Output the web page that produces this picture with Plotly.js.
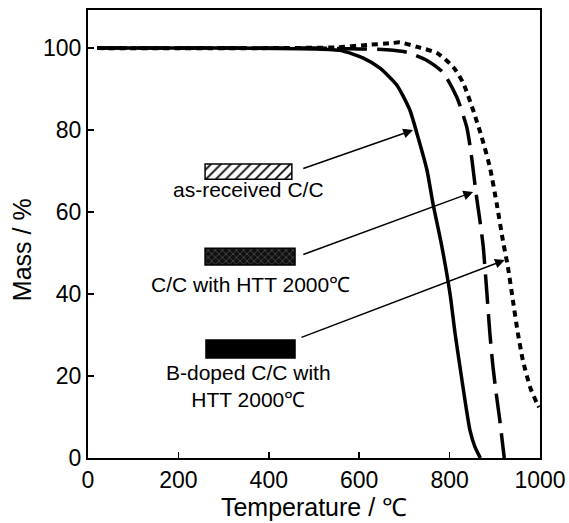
<!DOCTYPE html>
<html>
<head>
<meta charset="utf-8">
<script src="https://cdn.plot.ly/plotly-3.0.1.min.js"></script>
<style>html,body{margin:0;padding:0;background:#fff;}#chart{width:569px;height:523px;}</style>
</head>
<body>
<div id="chart"></div>
<script>
// As-received C/C (solid)
const tempAsReceived = [20, 300, 500, 560, 608, 646, 683, 712, 730, 750, 763, 783, 801, 812, 823, 834, 845, 856, 868];
const massAsReceived = [100, 100, 99.8, 99.4, 97.6, 95.1, 91, 84.9, 78.3, 70.2, 62.2, 51.5, 40, 30.5, 22.2, 14.1, 6.8, 2.7, 0];
// C/C with HTT 2000 (long dash)
const tempHTT = [20, 300, 500, 600, 660, 705, 750, 786, 816, 838, 848, 858, 867, 874, 882, 889, 896, 904, 911, 918, 921];
const massHTT = [100, 100, 100, 99.8, 99.6, 99, 97, 94, 88, 80.7, 74, 65, 58, 52, 41, 30.5, 22.2, 15, 9.3, 2.7, 0];
// B-doped C/C with HTT 2000 (dotted)
const tempBDoped = [20, 400, 550, 620, 670, 690, 728, 772, 808, 830, 852, 871, 889, 904, 918, 929, 940, 951, 962, 978, 993, 998];
const massBDoped = [100, 100, 100.2, 100.8, 101.2, 101.4, 100.3, 98.8, 95.4, 91.5, 84.9, 78.3, 71, 62.2, 53, 46.6, 38.5, 30.5, 23.9, 17.3, 13.4, 12.4];

// legend boxes: [xStart, xEnd, yLow, yHigh]
const labelNames = ["as-received C/C", "C/C with HTT 2000℃", "B-doped C/C with<br>HTT 2000℃"];
const boxX0 = [259, 259, 261];
const boxX1 = [451, 458, 458];
const boxY0 = [68, 47.1, 24.4];
const boxY1 = [71.7, 51.2, 28.8];
const labelX = [356, 360, 356];
const labelY = [65.6, 42.4, 17.5];
// arrows: tail and head
const arrowTailX = [473, 473, 469];
const arrowTailY = [70.5, 49.5, 29.3];
const arrowHeadX = [719, 852, 922];
const arrowHeadY = [80, 64.9, 48.3];

const FONT = "Liberation Sans, Arial, Helvetica, sans-serif";

const traces = [
  {x: tempAsReceived, y: massAsReceived, mode: 'lines', line: {color: '#000', width: 3.5, shape: 'spline', smoothing: 0.6}, showlegend: false, hoverinfo: 'skip'},
  {x: tempHTT, y: massHTT, mode: 'lines', line: {color: '#000', width: 3.5, dash: '30px,10px', shape: 'spline', smoothing: 0.6}, showlegend: false, hoverinfo: 'skip'},
  {x: tempBDoped, y: massBDoped, mode: 'lines', line: {color: '#000', width: 4, dash: '6px,5px', shape: 'spline', smoothing: 0.6}, showlegend: false, hoverinfo: 'skip'}
];

const patterns = [
  {marker: {color: '#fff', line: {color: '#000', width: 1.5}, pattern: {shape: '/', fgcolor: '#000', bgcolor: '#fff', size: 7, solidity: 0.25}}},
  {marker: {color: '#111', line: {color: '#000', width: 1.5}, pattern: {shape: 'x', fgcolor: '#888', bgcolor: '#111', size: 5, solidity: 0.15}}},
  {marker: {color: '#000', line: {color: '#000', width: 1.5}}}
];
for (let i = 0; i < 3; i++) {
  traces.push(Object.assign({
    type: 'bar', orientation: 'h',
    y: [(boxY0[i] + boxY1[i]) / 2], x: [boxX1[i] - boxX0[i]], base: [boxX0[i]],
    width: [boxY1[i] - boxY0[i]], showlegend: false, hoverinfo: 'skip'
  }, patterns[i]));
}

const annotations = [];
for (let i = 0; i < 3; i++) {
  annotations.push({
    x: labelX[i], y: labelY[i], xref: 'x', yref: 'y', text: labelNames[i], showarrow: false,
    font: {family: FONT, size: 21, color: '#000'}, align: 'center', xanchor: 'center', yanchor: 'middle'
  });
  annotations.push({
    x: arrowHeadX[i], y: arrowHeadY[i], ax: arrowTailX[i], ay: arrowTailY[i],
    xref: 'x', yref: 'y', axref: 'x', ayref: 'y', text: '', showarrow: true,
    arrowhead: 2, arrowsize: 1.3, arrowwidth: 1.5, arrowcolor: '#000', standoff: 0
  });
}
// y-axis title placed as annotation (sits slightly below plot centre in the reference)
annotations.push({
  x: -0.146, y: 0.464, xref: 'paper', yref: 'paper', text: 'Mass / %', showarrow: false,
  textangle: -90, xanchor: 'center', yanchor: 'middle',
  font: {family: FONT, size: 25, color: '#000'}
});

const layout = {
  width: 569, height: 523,
  margin: {l: 88, r: 29, t: 10, b: 65},
  paper_bgcolor: '#fff', plot_bgcolor: '#fff',
  barmode: 'overlay',
  showlegend: false,
  font: {family: FONT, color: '#000'},
  xaxis: {
    range: [0, 1000], tickvals: [0, 200, 400, 600, 800, 1000],
    ticks: 'inside', ticklen: 6, tickwidth: 1.5, tickcolor: '#000',
    showline: true, linecolor: '#000', linewidth: 2, mirror: true,
    showgrid: false, zeroline: false,
    tickfont: {family: FONT, size: 23, color: '#000'},
    title: {text: 'Temperature / ℃', font: {family: FONT, size: 25, color: '#000'}, standoff: 3}
  },
  yaxis: {
    range: [0, 109.3], tickvals: [0, 20, 40, 60, 80, 100],
    ticks: 'inside', ticklen: 6, tickwidth: 1.5, tickcolor: '#000',
    showline: true, linecolor: '#000', linewidth: 2, mirror: true,
    showgrid: false, zeroline: false,
    tickfont: {family: FONT, size: 23, color: '#000'}
  },
  annotations: annotations
};

Plotly.newPlot('chart', traces, layout, {displayModeBar: false, staticPlot: true});
</script>
</body>
</html>
